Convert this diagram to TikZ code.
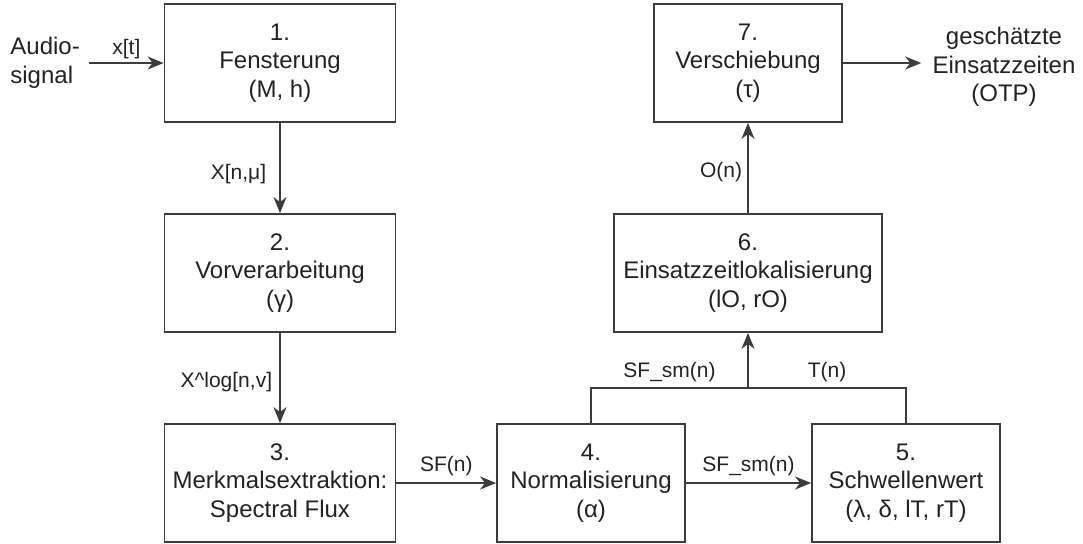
\documentclass[tikz,border=0pt]{standalone}
\usepackage{fontspec}
\setmainfont{Liberation Sans}
\usetikzlibrary{arrows.meta}
\definecolor{linegray}{HTML}{3C3C3C}
\definecolor{textgray}{HTML}{222222}
\begin{document}
\begin{tikzpicture}[x=0.5pt,y=-0.5pt,
  font=\fontsize{12}{14.3}\selectfont, text=textgray,
  block/.style={draw=linegray, line width=0.9pt, align=center, inner sep=0pt,
    minimum height=59pt},
  flow/.style={draw=linegray, line width=0.9pt,
    -{Stealth[length=8pt,width=6.5pt,inset=2.5pt]}},
  link/.style={draw=linegray, line width=0.9pt},
  lbl/.style={inner sep=0pt, font=\fontsize{10.5}{12}\selectfont}
]
\useasboundingbox (0,0) rectangle (1083,543);

% processing stages
\node[block, minimum width=115.5pt] (b1) at (280,63)  {1.\\Fensterung\\(M, h)};
\node[block, minimum width=115.5pt] (b2) at (280,273) {2.\\Vorverarbeitung\\(γ)};
\node[block, minimum width=115.5pt] (b3) at (280,483) {3.\\Merkmalsextraktion:\\Spectral Flux};
\node[block, minimum width=94pt]    (b4) at (591,483) {4.\\Normalisierung\\(α)};
\node[block, minimum width=94pt]    (b5) at (906,483) {5.\\Schwellenwert\\(λ, δ, lT, rT)};
\node[block, minimum width=134pt]   (b6) at (748,273) {6.\\Einsatzzeitlokalisierung\\(lO, rO)};
\node[block, minimum width=94pt]    (b7) at (748,63)  {7.\\Verschiebung\\(τ)};

% input and output
\node[inner sep=0pt, align=left, anchor=west] (src) at (10,63) {Audio-\\signal};
\node[inner sep=0pt, align=center] (out) at (1004,67) {geschätzte\\Einsatzzeiten\\(OTP)};

% signal flow
\draw[flow] ([xshift=4.5pt]src.east) -- node[lbl, above=1.5pt] {x[t]} (b1.west);
\draw[flow] (b1.south) -- node[lbl, left=6.5pt, pos=0.57] {X[n,μ]} (b2.north);
\draw[flow] (b2.south) -- node[lbl, left=3.5pt, pos=0.54] {X\^{}log[n,v]} (b3.north);
\draw[flow] (b3.east) -- node[lbl, above=3pt] {SF(n)} (b4.west);
\draw[flow] (b4.east) -- node[lbl, above=3pt] {SF\_sm(n)} (b5.west);

\coordinate (j) at (748,388);
\draw[link] (b4.north) |- node[lbl, pos=0.75, above=2.5pt] {SF\_sm(n)} (j)
  -| node[lbl, pos=0.25, above=2.5pt] {T(n)} (b5.north);
\draw[flow] (j) -- (b6.south);
\draw[flow] (b6.north) -- node[lbl, left=2.5pt, pos=0.46] {O(n)} (b7.south);
\draw[flow] (b7.east) -- ([xshift=-5.5pt]b7.east -| out.west);
\end{tikzpicture}
\end{document}
